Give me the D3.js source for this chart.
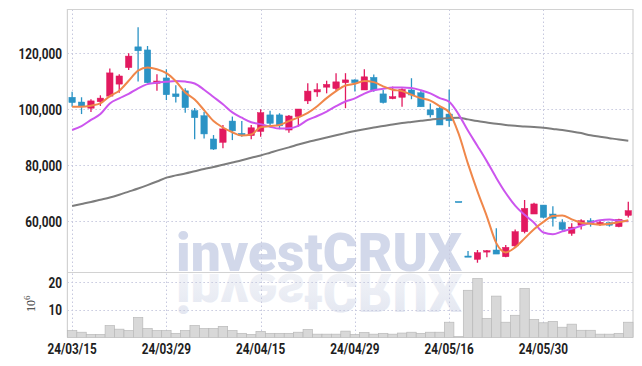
<!DOCTYPE html>
<html><head><meta charset="utf-8">
<script src="https://cdn.jsdelivr.net/npm/d3@7"></script>
<style>
html,body{margin:0;padding:0;background:#fff;}
svg{display:block;}
</style></head>
<body>
<svg id="chart" width="642" height="366"></svg>
<script>
const dates = ["24/03/15","24/03/18","24/03/19","24/03/20","24/03/21","24/03/22","24/03/25","24/03/26","24/03/27","24/03/28",
"24/03/29","24/04/01","24/04/02","24/04/03","24/04/04","24/04/05","24/04/08","24/04/09","24/04/11","24/04/12",
"24/04/15","24/04/16","24/04/17","24/04/18","24/04/19","24/04/22","24/04/23","24/04/24","24/04/25","24/04/26",
"24/04/29","24/04/30","24/05/02","24/05/03","24/05/07","24/05/08","24/05/09","24/05/10","24/05/13","24/05/14",
"24/05/16","24/05/17","24/05/20","24/05/21","24/05/22","24/05/23","24/05/24","24/05/27","24/05/28","24/05/29",
"24/05/30","24/05/31","24/06/03","24/06/04","24/06/05","24/06/07","24/06/10","24/06/11","24/06/12","24/06/13"];
const opens = [104300,102600,100400,102700,104700,109000,114900,122300,121200,109300,
111200,105500,106600,99500,97700,89400,88200,95800,91400,90600,
92100,98000,98000,92600,97400,103000,106200,107900,107400,109500,
110500,106900,111400,105500,103800,104300,106900,105900,99800,100400,
98300,67100,47600,46400,49000,49750,47350,51200,56300,62600,
65800,62600,59600,55700,58600,60200,58800,59500,58100,62100];
const highs = [106300,104300,103600,105000,114600,112500,120000,129300,122600,112500,
114300,108600,107500,100500,99100,90800,94400,97400,95800,94400,
100000,99500,98600,98000,100100,109300,109300,110200,112900,112900,
110700,114300,112400,106900,108100,107500,111100,106600,102100,100900,
107100,67100,49400,49750,49750,57500,51500,57100,67600,66600,
65800,65400,60700,59300,60700,61100,60200,59800,60900,67000];
const lows = [100900,98300,99000,101200,104300,105900,114000,109900,109300,106600,
103300,102400,98800,89300,89600,85500,86100,89000,90200,89300,
90200,93600,92900,91600,93800,101900,104500,105700,106600,100400,
106400,106900,106300,102100,103600,100900,103600,100900,97100,94400,
93800,67100,47300,45200,47150,48300,47150,50700,55700,62600,
61100,58100,56600,54800,57100,58100,58300,58100,57900,61400];
const closes = [102400,101200,103000,104000,113000,111900,119000,120900,109500,110100,
105200,104500,100600,97000,91200,85800,93000,92300,90700,93400,
98800,95000,94100,97600,100100,106500,107000,108900,109800,110500,
109500,111600,106900,102400,104500,107100,105100,100900,98000,94400,
95900,67100,47300,48800,49500,48300,50700,56300,64600,66200,
61400,61100,57100,57900,60200,59300,59600,58600,60700,63800];
const volumes = [2.5,1.9,1.1,1.1,4.3,3.0,2.5,7.2,3.2,2.5,
2.5,1.5,2.5,4.3,3.2,3.2,4.0,2.5,1.5,1.1,
2.2,1.5,1.5,1.5,1.9,2.9,1.2,1.2,1.2,2.3,
1.1,1.8,1.2,1.5,1.2,1.6,1.9,1.5,1.9,1.9,
5.5,0.35,17.0,21.2,6.9,14.9,5.5,8.0,17.6,6.5,
5.3,5.8,3.7,4.8,2.6,2.6,1.2,1.2,1.5,5.5];
const ma5 = [100900,100900,101300,102100,104700,106600,110200,113800,114900,114300,
112900,110000,106000,103500,99700,95800,93500,91800,90600,91000,
93600,94000,94400,95800,97100,98700,101100,104000,106500,108500,
109100,110100,109700,108200,107000,106500,105200,104000,103100,101100,
98900,91300,80500,70700,61700,52200,48900,50700,53900,57200,
59800,61900,62100,60700,59500,59100,58800,59100,59700,60400];
const ma10 = [92600,94000,96200,98300,102100,103900,105500,107500,109000,109500,
109800,110100,109900,109200,107000,104400,101800,98900,97000,95400,
94700,93800,93100,93200,94100,96200,97600,99200,101100,102800,
103900,105600,106800,107300,107800,107800,107600,106800,105700,104000,
102700,98200,92300,86900,81400,75500,70100,65600,62300,59500,
56000,55400,56400,57300,58400,59500,60400,60600,60200,60000];
const ma60 = [65500,66200,66900,67700,68500,69500,70600,71700,72900,74200,
75600,76400,77100,77900,78700,79400,80200,81000,81800,82700,
83500,84500,85500,86400,87400,88300,89100,89900,90700,91500,
92250,92900,93500,94000,94600,95100,95500,95900,96300,96600,
96900,97000,96400,95800,95300,94800,94400,94100,93900,93650,
93400,93000,92600,92100,91500,90700,90200,89700,89200,88800];
const priceTicks = [60000,80000,100000,120000];
const volumeTicks = [10,20];
const dateTicks = ["24/03/15","24/03/29","24/04/15","24/04/29","24/05/16","24/05/30"];

const pL = 67.4, pR = 633, pT = 9.5, pM = 272.5, pB = 337.5;
const svg = d3.select("#chart");
const x = d3.scaleBand().domain(dates).range([pL, pR]).padding(0);
const cx = d => x(d) + x.bandwidth() / 2;
const y = d3.scaleLinear().domain([41714, 135643]).range([pM, pT]);
const yv = d3.scaleLinear().domain([0, 23.4]).range([pB, pM]);

const UP = "#e2195f", DOWN = "#2b93c5";
const FONT = "Roboto, 'Liberation Sans', sans-serif";

// watermark (one text, drawn twice: normal and mirrored)
const defs = svg.append("defs");
const grad = defs.append("linearGradient").attr("id", "refl").attr("x1", 0).attr("y1", 0).attr("x2", 0).attr("y2", 1);
grad.append("stop").attr("offset", "0%").attr("stop-color", "#e1e5f0");
grad.append("stop").attr("offset", "100%").attr("stop-color", "#f5f6f9");
defs.append("text").attr("id", "wmtext").attr("x", 176).attr("y", 271)
  .attr("font-family", FONT).attr("font-weight", 900).attr("font-size", 53)
  .attr("textLength", 286).attr("lengthAdjust", "spacingAndGlyphs")
  .text("investCRUX");
const wm = svg.append("g");
wm.append("use").attr("href", "#wmtext").attr("fill", "#d2d8ea");
wm.append("use").attr("href", "#wmtext").attr("fill", "url(#refl)")
  .attr("transform", "translate(0,545) scale(1,-1)");

// grid
const grid = svg.append("g").attr("stroke", "#c6c8de").attr("stroke-width", 1).attr("stroke-dasharray", "1.5,2.5");
grid.selectAll(".hp").data(priceTicks).join("line").attr("class", "hp")
  .attr("x1", pL).attr("x2", pR).attr("y1", d => Math.round(y(d)) + 0.5).attr("y2", d => Math.round(y(d)) + 0.5);
grid.selectAll(".hv").data(volumeTicks).join("line").attr("class", "hv")
  .attr("x1", pL).attr("x2", pR).attr("y1", d => Math.round(yv(d)) + 0.5).attr("y2", d => Math.round(yv(d)) + 0.5);
grid.selectAll(".vx").data(dateTicks).join("line").attr("class", "vx")
  .attr("x1", d => Math.round(cx(d)) + 0.5).attr("x2", d => Math.round(cx(d)) + 0.5).attr("y1", pT).attr("y2", pB);

// frame
const frame = svg.append("g").attr("stroke", "#d2d2d2").attr("stroke-width", 1.2).attr("fill", "none");
frame.append("path").attr("d", `M${pL},${pB}V${pT}H${pR}V${pB}`);
frame.append("line").attr("x1", pL).attr("x2", pR).attr("y1", pM).attr("y2", pM);

// volume bars
svg.append("g").selectAll("rect").data(dates).join("rect")
  .attr("x", d => x(d)).attr("width", x.bandwidth())
  .attr("y", (d, i) => yv(volumes[i])).attr("height", (d, i) => pB - yv(volumes[i]))
  .attr("fill", "#d8d8d8").attr("stroke", "#b9b9b9").attr("stroke-width", 0.7);

// candles
const bw = x.bandwidth() * 0.68;
const cg = svg.append("g");
dates.forEach((d, i) => {
  const col = closes[i] > opens[i] ? UP : DOWN;
  cg.append("line").attr("x1", cx(d)).attr("x2", cx(d))
    .attr("y1", y(highs[i])).attr("y2", y(lows[i]))
    .attr("stroke", col).attr("stroke-width", 1.3);
  const y0 = Math.min(y(opens[i]), y(closes[i]));
  const h = Math.max(1.2, Math.abs(y(opens[i]) - y(closes[i])));
  cg.append("rect").attr("x", cx(d) - bw / 2).attr("width", bw)
    .attr("y", y0).attr("height", h).attr("fill", col).attr("stroke", col).attr("stroke-width", 0.5);
});

// moving averages
const line = arr => d3.line().x((d, i) => cx(dates[i])).y(d => y(d)).curve(d3.curveMonotoneX)(arr);
svg.append("path").attr("d", line(ma60)).attr("fill", "none").attr("stroke", "#7d7d7d").attr("stroke-width", 2);
svg.append("path").attr("d", line(ma10)).attr("fill", "none").attr("stroke", "#cc55ee").attr("stroke-width", 2);
svg.append("path").attr("d", line(ma5)).attr("fill", "none").attr("stroke", "#f0874a").attr("stroke-width", 2);

// labels
function squeeze(sel, k) {
  sel.each(function () {
    const len = this.getComputedTextLength();
    d3.select(this).attr("textLength", len * k).attr("lengthAdjust", "spacingAndGlyphs");
  });
}
const fmt = d3.format(",");
const lab = svg.append("g").attr("font-family", FONT).attr("font-weight", 700).attr("font-size", 15.5).attr("fill", "#1e1e1e");
lab.selectAll(".yp").data(priceTicks).join("text").attr("class", "yp")
  .attr("x", 62).attr("y", d => y(d)).attr("dy", "0.36em").attr("text-anchor", "end").text(d => fmt(d))
  .call(squeeze, 0.76);
lab.selectAll(".yv").data(volumeTicks).join("text").attr("class", "yv")
  .attr("x", 62).attr("y", d => yv(d)).attr("dy", "0.36em").attr("text-anchor", "end").text(d => d)
  .call(squeeze, 0.76);
lab.selectAll(".xd").data(dateTicks).join("text").attr("class", "xd")
  .attr("x", d => cx(d)).attr("y", 354).attr("text-anchor", "middle").text(d => d)
  .call(squeeze, 0.76);

const unit = svg.append("text").attr("transform", "translate(35,312) rotate(-90)")
  .attr("font-family", "'Liberation Serif', serif").attr("font-size", 12).attr("fill", "#333");
unit.append("tspan").text("10");
unit.append("tspan").attr("dy", -5).attr("font-size", 9).text("6");
</script>
</body></html>
